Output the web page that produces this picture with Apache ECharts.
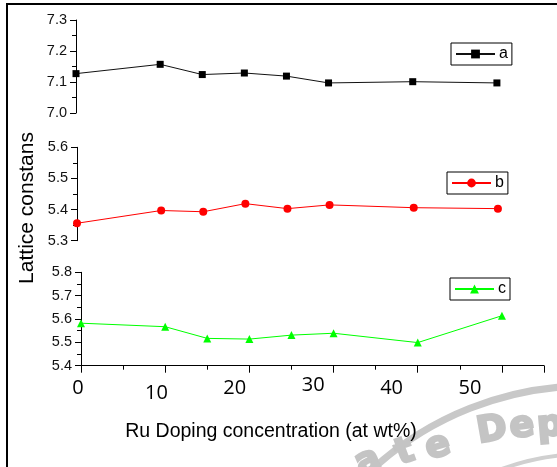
<!DOCTYPE html>
<html>
<head>
<meta charset="utf-8">
<script src="https://cdn.jsdelivr.net/npm/echarts@6/dist/echarts.min.js"></script>
<style>
  html, body { margin: 0; padding: 0; background: #fff; }
  #chart { width: 557px; height: 467px; }
</style>
</head>
<body>
<div id="chart"></div>
<script>
// Ru doping concentration (at wt%)
const concentration = [0, 10, 15, 20, 25, 30, 40, 50];
// Lattice constants per axis
const latticeA = [7.127, 7.157, 7.124, 7.129, 7.119, 7.097, 7.101, 7.097];
const latticeB = [5.356, 5.397, 5.393, 5.419, 5.403, 5.415, 5.406, 5.403];
const latticeC = [5.582, 5.567, 5.517, 5.514, 5.531, 5.539, 5.499, 5.614];
const xTickLabels = [0, 10, 20, 30, 40, 50];
const seriesNames = ['a', 'b', 'c'];

const pairs = (ys) => concentration.map((x, i) => [x, ys[i]]);

const FONT = 'Liberation Sans';

function yAxis(grid, min, max) {
  return {
    type: 'value', gridIndex: grid, min: min, max: max, interval: 0.1,
    axisLine: { show: true, lineStyle: { color: '#000', width: 1 } },
    axisTick: { show: true, inside: false, length: 6, lineStyle: { color: '#000' } },
    minorTick: { show: true, splitNumber: 2, length: 4, lineStyle: { color: '#000' } },
    splitLine: { show: false },
    axisLabel: {
      margin: 9, fontFamily: FONT, fontSize: 14.5, color: '#111',
      formatter: (v) => v.toFixed(1)
    }
  };
}

function hiddenX(grid) {
  return { type: 'value', gridIndex: grid, min: 0, max: 55, show: false };
}

function legendBox(name, left, top) {
  return {
    data: [name], left: left, top: top, orient: 'horizontal',
    backgroundColor: '#fff', borderColor: '#000', borderWidth: 1,
    padding: [3, 4, 3, 4], itemWidth: 39, itemHeight: 11, itemGap: 0,
    textStyle: { fontFamily: FONT, fontSize: 16, color: '#000', padding: [0, 0, 0, -1] },
    selectedMode: false
  };
}

// Stamp overlay in the lower right corner
const stampCx = 587, stampCy = 704;
const stampLetters = [
  ['a', 368, 462, 24], ['t', 405, 453, 20], ['e', 438, 447, 16],
  ['D', 492, 431, 10], ['e', 522, 427, 7], ['p', 550, 426, 5]
];
const stampGraphics = [
  { type: 'circle', z: -10, silent: true,
    shape: { cx: stampCx, cy: stampCy, r: 318 },
    style: { fill: 'none', stroke: '#c8c8c8', lineWidth: 7 } },
  { type: 'circle', z: -10, silent: true,
    shape: { cx: stampCx, cy: stampCy, r: 250 },
    style: { fill: 'none', stroke: '#d0d0d0', lineWidth: 4 } }
].concat(stampLetters.map(([ch, x, y, deg]) => ({
  type: 'text', z: -10, silent: true, x: x, y: y, rotation: deg * Math.PI / 180,
  style: { text: ch, fill: '#c4c4c4', stroke: '#c4c4c4', lineWidth: 2.5,
           font: 'bold 36px "DejaVu Sans"', align: 'center', verticalAlign: 'middle' }
})));

const chart = echarts.init(document.getElementById('chart'), null, { renderer: 'canvas' });

chart.setOption({
  animation: false,
  backgroundColor: '#fff',
  grid: [
    { left: 76, top: 20, width: 463, height: 93 },
    { left: 77, top: 147.3, width: 463, height: 93.4 },
    { left: 81, top: 272.3, width: 463, height: 93.4 },
    { left: 78, top: 366, width: 392, height: 1 }
  ],
  xAxis: [
    hiddenX(0),
    hiddenX(1),
    {
      type: 'value', gridIndex: 2, min: 0, max: 55, interval: 10,
      axisLine: { show: true, onZero: false, lineStyle: { color: '#000', width: 1 } },
      axisTick: { show: true, length: 7, lineStyle: { color: '#000' } },
      minorTick: { show: true, splitNumber: 2, length: 4, lineStyle: { color: '#000' } },
      splitLine: { show: false },
      axisLabel: { show: false }
    },
    {
      type: 'value', gridIndex: 3, min: 0, max: 50, interval: 10,
      axisLine: { show: false }, axisTick: { show: false }, splitLine: { show: false },
      axisLabel: {
        margin: 8,
        formatter: (v) => xTickLabels.includes(v)
          ? (v === 10 ? '{lo|' + v + '}' : v === 30 ? '{hi|' + v + '}' : '{n|' + v + '}')
          : '',
        rich: {
          n: { fontFamily: 'Open Sans', fontSize: 20, color: '#000', padding: [3, 0, 0, 0] },
          lo: { fontFamily: 'Open Sans', fontSize: 20, color: '#000', padding: [8, 0, 0, 0] },
          hi: { fontFamily: 'Open Sans', fontSize: 20, color: '#000', padding: [0, 0, 0, 0] }
        }
      }
    }
  ],
  yAxis: [
    yAxis(0, 7.0, 7.3),
    yAxis(1, 5.3, 5.6),
    yAxis(2, 5.4, 5.8),
    { type: 'value', gridIndex: 3, show: false }
  ],
  legend: [
    legendBox(seriesNames[0], 451, 43),
    legendBox(seriesNames[1], 447, 172),
    legendBox(seriesNames[2], 450, 278)
  ],
  graphic: stampGraphics.concat([
    { type: 'rect', z: 100, silent: true,
      shape: { x: 7, y: 4, width: 580, height: 500 },
      style: { fill: 'none', stroke: '#000', lineWidth: 2 } },
    { type: 'text', z: 100, silent: true, x: 27, y: 208, rotation: Math.PI / 2,
      style: { text: 'Lattice constans', fontFamily: FONT, fontSize: 21, fill: '#000',
               align: 'center', verticalAlign: 'middle' } },
    { type: 'text', z: 100, silent: true, x: 271, y: 432,
      style: { text: 'Ru Doping concentration (at wt%)', fontFamily: FONT, fontSize: 19.5, fill: '#000',
               align: 'center', verticalAlign: 'middle' } }
  ]),
  series: [
    {
      name: seriesNames[0], type: 'line', xAxisIndex: 0, yAxisIndex: 0,
      data: pairs(latticeA), symbol: 'rect', symbolSize: 7,
      itemStyle: { color: '#000' }, lineStyle: { color: '#111', width: 1 }
    },
    {
      name: seriesNames[1], type: 'line', xAxisIndex: 1, yAxisIndex: 1,
      data: pairs(latticeB), symbol: 'circle', symbolSize: 8,
      itemStyle: { color: '#ff0000' }, lineStyle: { color: '#ff0000', width: 1 }
    },
    {
      name: seriesNames[2], type: 'line', xAxisIndex: 2, yAxisIndex: 2,
      data: pairs(latticeC), symbol: 'triangle', symbolSize: 8,
      itemStyle: { color: '#00ff00' }, lineStyle: { color: '#00ff00', width: 1 }
    }
  ]
});
</script>
</body>
</html>
